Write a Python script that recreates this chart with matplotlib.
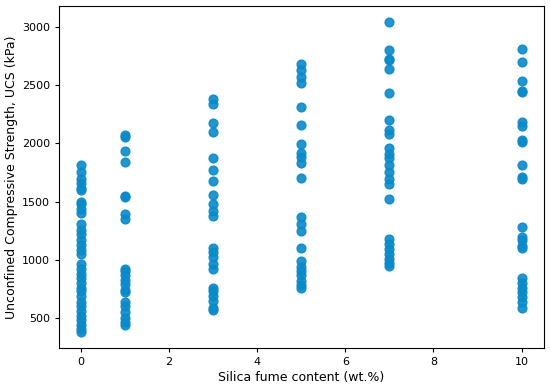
import matplotlib
matplotlib.use("Agg")
import matplotlib.pyplot as plt
import numpy as np

# シリカフューム含有量ごとの一軸圧縮強度 (kPa)
ucs_0 = [1810, 1750, 1690, 1660, 1620, 1600, 1500, 1480, 1440, 1400, 1310, 1260,
         1220, 1170, 1130, 1080, 1050, 960, 920, 880, 840, 800, 760, 730, 690,
         640, 600, 560, 520, 480, 440, 410, 380]
ucs_1 = [2070, 2050, 1930, 1840, 1550, 1540, 1390, 1350, 920, 900, 870, 830,
         790, 740, 720, 640, 600, 550, 500, 470, 440]
ucs_3 = [2380, 2340, 2170, 2100, 1870, 1770, 1680, 1560, 1480, 1420, 1380,
         1100, 1070, 1020, 960, 920, 760, 730, 690, 650, 590, 570]
ucs_5 = [2680, 2630, 2570, 2520, 2310, 2160, 1990, 1920, 1880, 1830, 1700,
         1370, 1310, 1250, 1100, 990, 940, 900, 870, 820, 780, 760]
ucs_7 = [3040, 2800, 2720, 2710, 2640, 2430, 2200, 2110, 2080, 1960, 1910,
         1870, 1810, 1750, 1690, 1650, 1520, 1180, 1140, 1090, 1050, 1010, 970, 950]
ucs_10 = [2810, 2700, 2530, 2450, 2440, 2180, 2150, 2030, 2010, 1810, 1710,
          1690, 1280, 1200, 1170, 1120, 1100, 840, 800, 760, 720, 680, 640, 590]

sf = [0, 1, 3, 5, 7, 10]
groups = [ucs_0, ucs_1, ucs_3, ucs_5, ucs_7, ucs_10]

x = np.concatenate([[s] * len(g) for s, g in zip(sf, groups)])
y = np.concatenate(groups)

plt.rcParams['xtick.labelsize'] = 8
plt.rcParams['ytick.labelsize'] = 8
plt.rcParams['xtick.major.size'] = 3
plt.rcParams['ytick.major.size'] = 3

fig = plt.figure(figsize=(5.5, 3.88), dpi=100)
ax = fig.add_axes([0.107, 0.104, 0.8815, 0.8795])
ax.scatter(x, y, color='#0a8ac9', alpha=0.9, s=40)

ax.set_xlabel("Silica fume content (wt.%)", fontsize=9, labelpad=3)
ax.set_ylabel("Unconfined Compressive Strength, UCS (kPa)", fontsize=9, labelpad=3)

fig.savefig("out.png", dpi=100)
